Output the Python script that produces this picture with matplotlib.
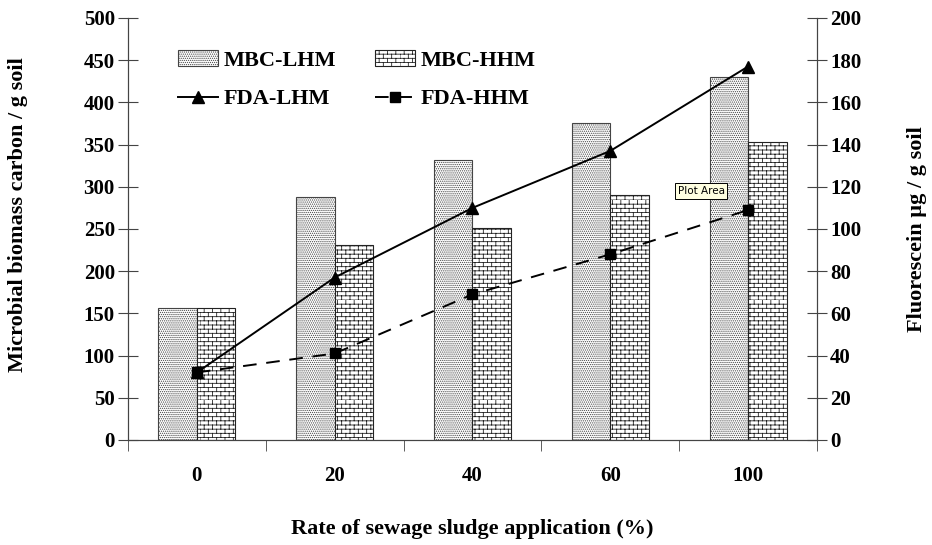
import numpy as np
import matplotlib.pyplot as plt
from matplotlib import hatch as mhatch
from matplotlib.path import Path
from matplotlib.lines import Line2D
from matplotlib.patches import Patch


# brick hatch (not built into matplotlib)
class BrickHatch(mhatch.HatchPatternBase):
    def __init__(self, hatch, density):
        self.rows = int(hatch.count('b') * density)
        self.cols = self.rows // 2
        self.num_vertices = self.rows * (2 + 2 * self.cols)

    def set_vertices_and_codes(self, vertices, codes):
        n, m = self.rows, self.cols
        k = 0
        for i in range(n):
            y0 = i / n
            y1 = (i + 1) / n
            vertices[k] = (0, y0); vertices[k + 1] = (1, y0)
            codes[k] = Path.MOVETO; codes[k + 1] = Path.LINETO
            k += 2
            off = 0.5 / m if i % 2 else 0.0
            for j in range(m):
                xx = j / m + off
                vertices[k] = (xx, y0); vertices[k + 1] = (xx, y1)
                codes[k] = Path.MOVETO; codes[k + 1] = Path.LINETO
                k += 2


mhatch._hatch_types.append(BrickHatch)

plt.rcParams['font.family'] = ['Liberation Serif', 'DejaVu Serif']
plt.rcParams['font.weight'] = 'bold'
plt.rcParams['hatch.linewidth'] = 0.6

# data
rates = ['0', '20', '40', '60', '100']
mbc_lhm = [156, 288, 332, 376, 430]
mbc_hhm = [156, 231, 251, 290, 353]
fda_lhm = [32, 77, 110, 137, 177]
fda_hhm = [32, 41, 69, 88, 109]

x = np.arange(len(rates))
w = 0.28

fig = plt.figure(figsize=(9.32, 5.45), dpi=100)
ax = fig.add_axes([0.1373, 0.1927, 0.7393, 0.7743])
ax2 = ax.twinx()

ax.bar(x - w / 2, mbc_lhm, w, facecolor='white', edgecolor='#444444',
       hatch='........', linewidth=0.8, zorder=2)
ax.bar(x + w / 2, mbc_hhm, w, facecolor='white', edgecolor='#222222',
       hatch='bbbb', linewidth=0.8, zorder=2)

ax2.plot(x, fda_lhm, color='black', lw=1.4, marker='^', ms=8)
ax2.plot(x, fda_hhm, color='black', lw=1.4, ls=(0, (7, 5)), marker='s', ms=7)

ax.set_xlim(-0.5, len(rates) - 0.5)
ax.set_ylim(0, 500)
ax2.set_ylim(0, 200)
ax.set_yticks(np.arange(0, 501, 50))
ax2.set_yticks(np.arange(0, 201, 20))

ax.set_xticks(x)
ax.set_xticklabels(rates)
ax.tick_params(axis='x', length=0, pad=19, labelsize=15)
ax.set_xticks(np.arange(-0.5, len(rates)), minor=True)
ax.tick_params(axis='x', which='minor', length=8, direction='out', color='#444444')
ax.tick_params(axis='y', direction='inout', length=15, pad=2, labelsize=15, color='#444444')
ax2.tick_params(axis='y', direction='inout', length=15, pad=2, labelsize=15, color='#444444')

for a in (ax, ax2):
    a.spines['top'].set_visible(False)
    for s in ('left', 'right', 'bottom'):
        a.spines[s].set_color('#444444')

ax.set_ylabel('Microbial biomass carbon / g soil', fontsize=16, fontweight='bold')
ax.yaxis.set_label_coords(-0.145, 0.533)
ax2.set_ylabel('Fluorescein µg / g soil', fontsize=16, fontweight='bold', rotation=90,
               va='center')
ax2.yaxis.set_label_coords(1.145, 0.5)
ax.set_xlabel('Rate of sewage sludge application (%)', fontsize=16, fontweight='bold',
              va='center')
ax.xaxis.set_label_coords(0.5, -0.21)

handles = [
    Patch(facecolor='white', edgecolor='#444444', hatch='........', lw=0.8),
    Line2D([], [], color='black', lw=1.4, marker='^', ms=8),
    Patch(facecolor='white', edgecolor='#222222', hatch='bbbb', lw=0.8),
    Line2D([], [], color='black', lw=1.4, ls=(0, (7, 5)), marker='s', ms=7),
]
labels = ['MBC-LHM', 'FDA-LHM', 'MBC-HHM', 'FDA-HHM']
ax2.legend(handles, labels, ncol=2, frameon=False, loc='upper left',
           bbox_to_anchor=(0.0726, 0.923), borderaxespad=0, borderpad=0,
           fontsize=16, handlelength=1.8, handleheight=0.7, columnspacing=1.75,
           labelspacing=0.8, handletextpad=0.25)

# screenshot tooltip
ax2.text(0.832, 0.59, 'Plot Area', transform=ax2.transAxes, family='DejaVu Sans',
         fontweight='normal', fontsize=7.5, ha='center', va='center',
         bbox=dict(boxstyle='square,pad=0.25', facecolor='#ffffe1',
                   edgecolor='black', lw=0.7))

plt.savefig('out.png', dpi=100)
